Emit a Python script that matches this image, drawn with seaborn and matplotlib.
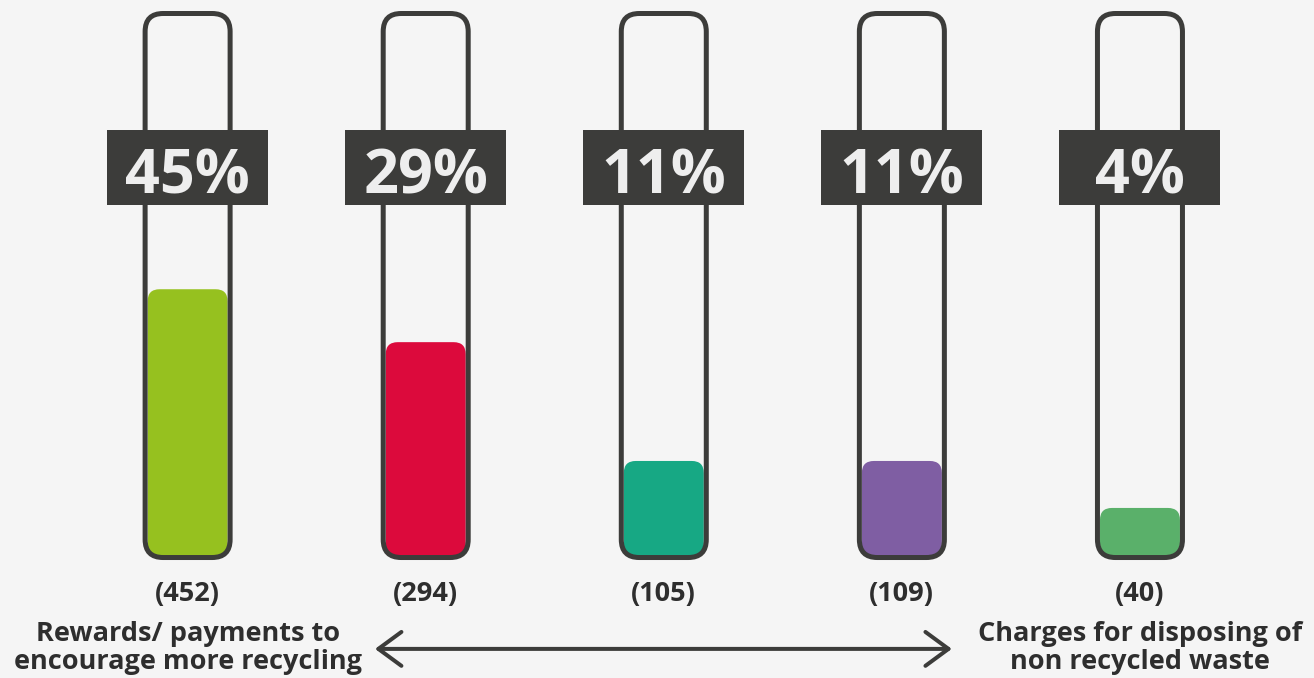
import numpy as np
import pandas as pd
import matplotlib
matplotlib.use("Agg")
import matplotlib.pyplot as plt
import seaborn as sns
from matplotlib.patches import FancyBboxPatch, Rectangle

# ---------------- data ----------------
options = ["1", "2", "3", "4", "5"]                  # scale from rewards (1) to charges (5)
percent_labels = ["45%", "29%", "11%", "11%", "4%"]
counts = [452, 294, 105, 109, 40]
fill_level = [49.4, 39.6, 17.6, 17.6, 8.9]            # liquid level, % of tube height
colors = ["#96c11f", "#dc0a3c", "#17a884", "#7f5ea3", "#5ab06a"]
end_labels = ["Rewards/ payments to\nencourage more recycling",
              "Charges for disposing of\nnon recycled waste"]

# ---------------- style ----------------
BG = "#f5f5f5"
DARK = "#3c3c3a"
W, H, DPI = 13.14, 6.78, 100

df = pd.DataFrame({"option": options, "level": fill_level})

fig = plt.figure(figsize=(W, H), dpi=DPI, facecolor=BG)
ax = fig.add_axes([0, 0, 1, 1])
ax.set_facecolor(BG)
plt.rcParams["font.family"] = ["Open Sans", "DejaVu Sans"]

sns.barplot(data=df, x="option", y="level", hue="option", palette=colors,
            legend=False, width=0.336, ax=ax, saturation=1, zorder=1)

XLIM = (-0.788, 4.731)
YLIM = (-22.59, 102.96)
ax.set_xlim(*XLIM)
ax.set_ylim(*YLIM)
ax.axis("off")

px_x = W * DPI / (XLIM[1] - XLIM[0])
px_y = H * DPI / (YLIM[1] - YLIM[0])
aspect = px_x / px_y

# replace seaborn rectangles with rounded liquid shapes
bars = sorted([p for p in ax.patches if isinstance(p, Rectangle)], key=lambda p: p.get_x())
for p in bars:
    x, y, w, h = p.get_x(), p.get_y(), p.get_width(), p.get_height()
    fc = p.get_facecolor()
    p.remove()
    r = 12 / px_x
    ax.add_patch(FancyBboxPatch((x, y), w, h,
                                boxstyle=f"round,pad=0,rounding_size={r}",
                                mutation_aspect=aspect, fc=fc, ec="none", zorder=1))

tube_w = 85 / px_x
tube_bottom, tube_top = -0.28, 100.46
box_w = 161 / px_x
box_lo, box_hi = 65.0, 78.9

for i, (pl, c) in enumerate(zip(percent_labels, counts)):
    # tube outline
    ax.add_patch(FancyBboxPatch((i - tube_w / 2, tube_bottom), tube_w, tube_top - tube_bottom,
                                boxstyle=f"round,pad=0,rounding_size={18 / px_x}",
                                mutation_aspect=aspect, fc="none", ec=DARK,
                                lw=5 * 72 / DPI, zorder=2))
    # percentage label box
    ax.add_patch(Rectangle((i - box_w / 2, box_lo), box_w, box_hi - box_lo,
                           fc=DARK, ec="none", zorder=3))
    ax.text(i, 67.2, pl, ha="center", va="baseline", color="#eeeeee",
            fontsize=44, fontweight="bold", zorder=4)
    ax.text(i, -8.33, f"({c})", ha="center", va="baseline", color="#2e2e2e",
            fontsize=19.5, fontweight="bold", zorder=4)

# end labels (two-line, tight spacing; baseline of last line)
for xpos, lab in zip([0, len(options) - 1], end_labels):
    ax.text(xpos, -20.9, lab, ha="center", va="baseline", multialignment="center",
            linespacing=1.1, color="#2e2e2e", fontsize=19.5, fontweight="bold", zorder=4)

# double-headed arrow
ax.annotate("", xy=(0.787, -17.2), xytext=(3.21, -17.2),
            arrowprops=dict(arrowstyle="<->,head_length=1.66,head_width=1.22",
                            mutation_scale=10, color=DARK, lw=4 * 72 / DPI,
                            shrinkA=0, shrinkB=0))

fig.savefig("out.png", dpi=DPI, facecolor=BG)
